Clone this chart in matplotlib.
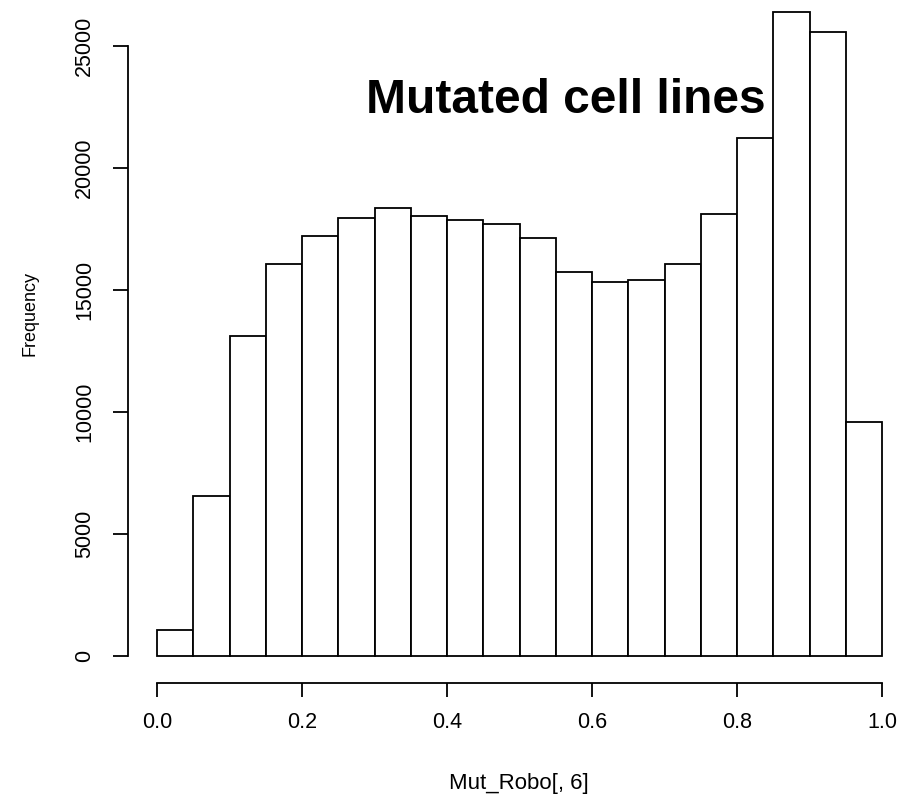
import matplotlib.pyplot as plt
import numpy as np

# histogram counts (bins of width 0.05 from 0 to 1)
bin_edges = np.linspace(0, 1, 21)
counts = [1050, 6550, 13110, 16070, 17210, 17940, 18350, 18020, 17870, 17690,
          17120, 15720, 15310, 15400, 16050, 18100, 21240, 26380, 25560, 9590]
x_ticks = [0.0, 0.2, 0.4, 0.6, 0.8, 1.0]
x_ticklabels = ["0.0", "0.2", "0.4", "0.6", "0.8", "1.0"]
y_ticks = [0, 5000, 10000, 15000, 20000, 25000]

plt.rcParams['font.family'] = ['Liberation Sans', 'DejaVu Sans']

W, H = 910, 802
fig = plt.figure(figsize=(W / 100, H / 100), dpi=100)
# axes from x pixel 128 to 910, y pixel 0 to 683
ax = fig.add_axes([128 / W, (H - 683) / H, (W - 128) / W, 683 / H])

# pixel -> data mapping: x 0..1 at 157..882, y 0 at 656, 5000 per 122 px
px_per_x = 725.0
units_per_px = 5000 / 122.0
ax.set_xlim((128 - 157) / px_per_x, (910 - 157) / px_per_x)
ax.set_ylim(-(683 - 656) * units_per_px, 656 * units_per_px)

ax.bar(bin_edges[:-1], counts, width=np.diff(bin_edges), align='edge',
       facecolor='white', edgecolor='black', linewidth=1.3)

for s in ['top', 'right']:
    ax.spines[s].set_visible(False)
ax.spines['left'].set_bounds(0, 25000)
ax.spines['bottom'].set_bounds(0, 1)
for s in ['left', 'bottom']:
    ax.spines[s].set_linewidth(1.3)

ax.set_xticks(x_ticks)
ax.set_xticklabels(x_ticklabels)
ax.set_yticks(y_ticks)
ax.set_yticklabels([str(v) for v in y_ticks], rotation=90, va='center')
ax.tick_params(axis='both', direction='out', width=1.3, labelsize=15.5)
ax.tick_params(axis='x', length=10, pad=11)
ax.tick_params(axis='y', length=11, pad=12.5)

ax.text(0.5642, (656 - 113) * units_per_px, "Mutated cell lines",
        fontweight='bold', fontsize=34.5, ha='center', va='baseline')

fig.text(30 / W, 1 - 314 / H, "Frequency", rotation=90, ha='center',
         va='center', fontsize=13)
fig.text(519 / W, 1 - 784 / H, "Mut_Robo[, 6]", ha='center', va='center',
         fontsize=16)

fig.savefig("out.png", dpi=100)
